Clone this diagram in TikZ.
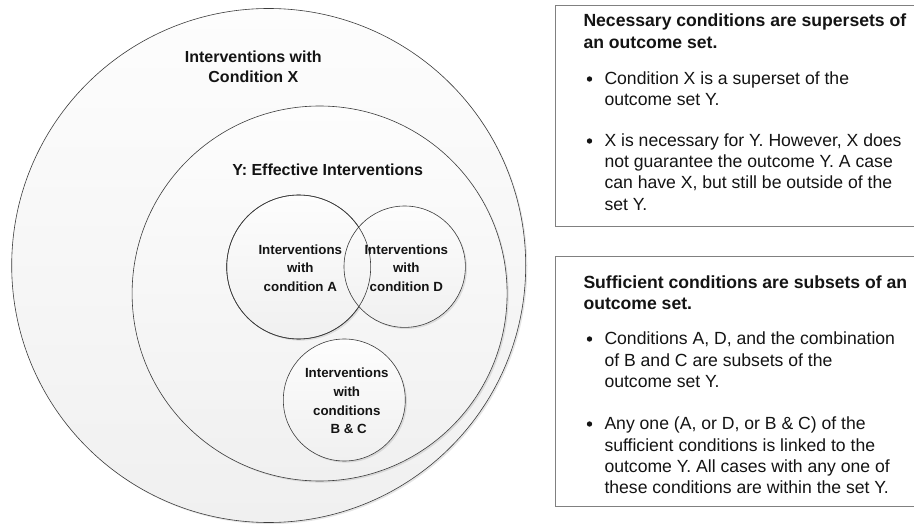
\documentclass[tikz,border=0pt]{standalone}
\usepackage{fontspec}
\setmainfont{Liberation Sans}
\usetikzlibrary{shadows}
\definecolor{circtop}{HTML}{FDFDFD}
\definecolor{circbot}{HTML}{F0F0F0}
\definecolor{circline}{HTML}{3C3C3C}
\definecolor{boxline}{HTML}{808080}
\definecolor{txt}{HTML}{141414}
\tikzset{
  setcirc/.style={circle, draw=circline, line width=0.6pt, top color=circtop, bottom color=circbot,
    inner sep=0pt, minimum size=#1,
    drop shadow={shadow xshift=1.6pt, shadow yshift=-1.6pt, fill=black, opacity=0.10}},
  ringline/.style={draw=circline, line width=0.6pt},
  biglabel/.style={font=\bfseries\fontsize{16}{19.6}\selectfont, align=center, inner sep=0pt, text=txt},
  smalllabel/.style={font=\bfseries\fontsize{13.3}{18.7}\selectfont, align=center, inner sep=0pt, text=txt},
  headline/.style={font=\bfseries\fontsize{17.6}{21}\selectfont, anchor=base west, inner sep=0pt, text=txt},
  bodyline/.style={font=\fontsize{17.6}{21}\selectfont, anchor=base west, inner sep=0pt, text=txt},
  bulletdot/.style={circle, fill=txt, inner sep=0pt, minimum size=5.4pt},
  infobox/.style={draw=boxline, line width=0.9pt},
}
\begin{document}
\begin{tikzpicture}[x=1pt,y=-1pt]
\useasboundingbox[fill=white] (0,0) rectangle (914,524);

% --- sets ---
\node[setcirc=514pt] (X) at (268.7,265.5) {};
\node[setcirc=375pt] (Y) at (319.6,293.5) {};
\node[setcirc=144pt] (A) at (298.7,267) {};
\node[setcirc=121.4pt] (D) at (404.7,266.7) {};
\node[setcirc=122pt] (BC) at (344.3,400) {};
\draw[ringline] (A.center) circle[radius=72pt];

% --- set labels ---
\node[biglabel] (Xlab) at (253.3,66.5) {Interventions with\\Condition X};
\node[biglabel] (Ylab) at (327.7,170) {Y: Effective Interventions};
\node[smalllabel] (Alab) at (300.3,268) {Interventions\\with\\condition A};
\node[smalllabel] (Dlab) at (406.3,268) {Interventions\\with\\condition D};
\node[smalllabel] (BClab) at (346.8,401) {Interventions\\with\\conditions\\\hphantom{i}B \& C};

% --- box 1: necessary conditions ---
\coordinate (b1tr) at (914,5);
\coordinate (b1tl) at (555.7,5);
\coordinate (b1bl) at (555.7,226);
\coordinate (b1br) at (914,226);
\draw[infobox] (b1tr) -- (b1tl) -- (b1bl) -- (b1br);
\node[headline] (n1) at (583.3,27) {Necessary conditions are supersets of};
\node[headline] (n2) at (583.3,49) {an outcome set.};
\node[bulletdot] (nb1) at (589.5,79) {};
\node[bodyline] (n3) at (604.3,85) {Condition X is a superset of the};
\node[bodyline] (n4) at (604.3,106) {outcome set Y.};
\node[bulletdot] (nb2) at (589.5,141) {};
\node[bodyline] (n5) at (604.3,146.5) {X is necessary for Y. However, X does};
\node[bodyline] (n6) at (604.3,167.5) {not guarantee the outcome Y. A case};
\node[bodyline] (n7) at (604.3,189) {can have X, but still be outside of the};
\node[bodyline] (n8) at (604.3,210.5) {set Y.};

% --- box 2: sufficient conditions ---
\coordinate (b2tr) at (914,256);
\coordinate (b2tl) at (555.7,256);
\coordinate (b2bl) at (555.7,506);
\coordinate (b2br) at (914,506);
\draw[infobox] (b2tr) -- (b2tl) -- (b2bl) -- (b2br);
\node[headline] (s1) at (583.3,288.5) {Sufficient conditions are subsets of an};
\node[headline] (s2) at (583.3,309.5) {outcome set.};
\node[bulletdot] (sb1) at (589.5,339) {};
\node[bodyline] (s3) at (604.3,344.5) {Conditions A, D, and the combination};
\node[bodyline] (s4) at (604.3,366) {of B and C are subsets of the};
\node[bodyline] (s5) at (604.3,387.5) {outcome set Y.};
\node[bulletdot] (sb2) at (589.5,424) {};
\node[bodyline] (s6) at (604.3,429.5) {Any one (A, or D, or B \& C) of the};
\node[bodyline] (s7) at (604.3,451) {sufficient conditions is linked to the};
\node[bodyline] (s8) at (604.3,472.5) {outcome Y. All cases with any one of};
\node[bodyline] (s9) at (604.3,493.5) {these conditions are within the set Y.};
\end{tikzpicture}
\end{document}
